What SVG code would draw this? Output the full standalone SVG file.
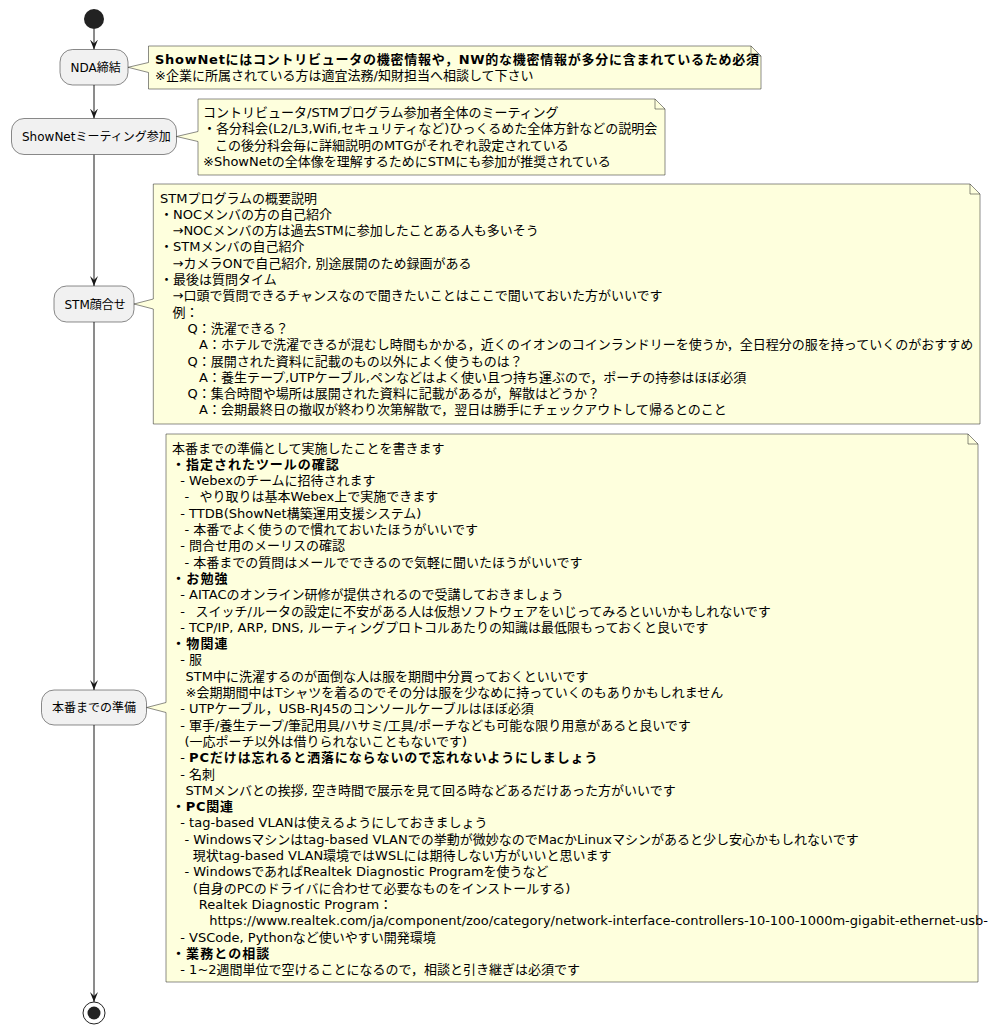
<svg xmlns="http://www.w3.org/2000/svg" width="992" height="1035" viewBox="0 0 992 1035">
<style>
.t{font-family:"DejaVu Sans","Noto Sans CJK JP",sans-serif;font-size:13px;fill:#000}
.n{font-size:12px}
.b{font-weight:bold}
.box{fill:#F1F1F1;stroke:#181818;stroke-width:0.5}
.note{fill:#FEFFDD;stroke:#181818;stroke-width:0.5}
.fold{fill:none;stroke:#181818;stroke-width:0.5}
.edge{fill:none;stroke:#181818;stroke-width:1}
</style>
<defs>
<marker id="ah" viewBox="0 0 10 8" refX="10" refY="4" markerWidth="10" markerHeight="8" orient="auto" markerUnits="userSpaceOnUse">
<path d="M0,0 L10,4 L0,8 L4,4 Z" fill="#181818"/>
</marker>
</defs>
<rect width="992" height="1035" fill="#FFFFFF"/>

<g id="connectors">
<line class="edge" x1="94" y1="29" x2="94" y2="49.5" marker-end="url(#ah)"/>
<line class="edge" x1="94" y1="85" x2="94" y2="118.5" marker-end="url(#ah)"/>
<line class="edge" x1="94" y1="154.5" x2="94" y2="286" marker-end="url(#ah)"/>
<line class="edge" x1="94" y1="322" x2="94" y2="690" marker-end="url(#ah)"/>
<line class="edge" x1="94" y1="725" x2="94" y2="1002" marker-end="url(#ah)"/>
</g>

<g id="start"><circle cx="94" cy="19" r="10" fill="#222222"/></g>

<g id="node-nda">
<rect class="box" x="60" y="49.5" width="68" height="35.5" rx="12.5"/>
<text class="t n" x="70.5" y="72">NDA締結</text>
</g>

<g id="node-shownet">
<rect class="box" x="11.5" y="118.5" width="165" height="36" rx="12.5"/>
<text class="t n" x="22" y="141">ShowNetミーティング参加</text>
</g>

<g id="node-stm">
<rect class="box" x="54" y="286" width="80" height="36" rx="12.5"/>
<text class="t n" x="64.5" y="308.5">STM顔合せ</text>
</g>

<g id="node-prep">
<rect class="box" x="41.5" y="690" width="105" height="35" rx="12.5"/>
<text class="t n" x="52" y="712">本番までの準備</text>
</g>

<g id="end">
<circle cx="94" cy="1013" r="11" fill="none" stroke="#222222" stroke-width="1"/>
<circle cx="94" cy="1013" r="6.5" fill="#222222"/>
</g>

<g id="note-nda">
<path class="note" d="M148.5,46 L148.5,62.5 L128,67.3 L148.5,72.5 L148.5,89 L761,89 L761,56 L751,46 Z"/>
<path class="fold" d="M751,46 L751,56 L761,56"/>
<text class="t b" x="155" y="64" textLength="604" lengthAdjust="spacing">ShowNetにはコントリビュータの機密情報や，NW的な機密情報が多分に含まれているため必須</text>
<text class="t" x="155" y="80.3">※企業に所属されている方は適宜法務/知財担当へ相談して下さい</text>
</g>

<g id="note-shownet">
<path class="note" d="M198,99 L198,131.5 L176.5,136.5 L198,141.5 L198,175 L665,175 L665,109 L655,99 Z"/>
<path class="fold" d="M655,99 L655,109 L665,109"/>
<text class="t" x="203" y="117">コントリビュータ/STMプログラム参加者全体のミーティング</text>
<text class="t" x="203" y="133.3">・各分科会(L2/L3,Wifi,セキュリティなど)ひっくるめた全体方針などの説明会</text>
<text class="t" x="215" y="149.6">この後分科会毎に詳細説明のMTGがそれぞれ設定されている</text>
<text class="t" x="203" y="165.9">※ShowNetの全体像を理解するためにSTMにも参加が推奨されている</text>
</g>

<g id="note-stm">
<path class="note" d="M153.3,184 L153.3,299 L134,304 L153.3,309 L153.3,424 L980,424 L980,194 L970,184 Z"/>
<path class="fold" d="M970,184 L970,194 L980,194"/>
<text class="t" x="160" y="202.5">STMプログラムの概要説明</text>
<text class="t" x="160" y="218.8">・NOCメンバの方の自己紹介</text>
<text class="t" x="172.5" y="235.1">→NOCメンバの方は過去STMに参加したことある人も多いそう</text>
<text class="t" x="160" y="251.4">・STMメンバの自己紹介</text>
<text class="t" x="172.5" y="267.7">→カメラONで自己紹介, 別途展開のため録画がある</text>
<text class="t" x="160" y="284">・最後は質問タイム</text>
<text class="t" x="172.5" y="300.3">→口頭で質問できるチャンスなので聞きたいことはここで聞いておいた方がいいです</text>
<text class="t" x="172.5" y="316.6">例：</text>
<text class="t" x="187.5" y="332.9">Q：洗濯できる？</text>
<text class="t" x="199" y="349.2">A：ホテルで洗濯できるが混むし時間もかかる，近くのイオンのコインランドリーを使うか，全日程分の服を持っていくのがおすすめ</text>
<text class="t" x="187.5" y="365.5">Q：展開された資料に記載のもの以外によく使うものは？</text>
<text class="t" x="199" y="381.8">A：養生テープ,UTPケーブル,ペンなどはよく使い且つ持ち運ぶので，ポーチの持参はほぼ必須</text>
<text class="t" x="187.5" y="398.1">Q：集合時間や場所は展開された資料に記載があるが，解散はどうか？</text>
<text class="t" x="199" y="414.4">A：会期最終日の撤収が終わり次第解散で，翌日は勝手にチェックアウトして帰るとのこと</text>
</g>

<g id="note-prep">
<path class="note" d="M166,434 L166,702.5 L146.7,707.5 L166,712.5 L166,982 L978,982 L978,444 L968,434 Z"/>
<path class="fold" d="M968,434 L968,444 L978,444"/>
<text class="t" x="172" y="452.5">本番までの準備として実施したことを書きます</text>
<text class="t b" x="172" y="468.8" textLength="166.8" lengthAdjust="spacing">・指定されたツールの確認</text>
<text class="t" x="180.3" y="485.1">- Webexのチームに招待されます</text>
<text class="t" y="501.4"><tspan x="184.4">-</tspan><tspan x="199.5">やり取りは基本Webex上で実施できます</tspan></text>
<text class="t" x="180.3" y="517.7">- TTDB(ShowNet構築運用支援システム)</text>
<text class="t" x="184.4" y="534">- 本番でよく使うので慣れておいたほうがいいです</text>
<text class="t" x="180.3" y="550.3">- 問合せ用のメーリスの確認</text>
<text class="t" x="184.4" y="566.6">- 本番までの質問はメールでできるので気軽に聞いたほうがいいです</text>
<text class="t b" x="172" y="582.9" textLength="55.6" lengthAdjust="spacing">・お勉強</text>
<text class="t" x="180.3" y="599.2">- AITACのオンライン研修が提供されるので受講しておきましょう</text>
<text class="t" y="615.5"><tspan x="180.3">-</tspan><tspan x="195.5">スイッチ/ルータの設定に不安がある人は仮想ソフトウェアをいじってみるといいかもしれないです</tspan></text>
<text class="t" x="180.3" y="631.8">- TCP/IP, ARP, DNS, ルーティングプロトコルあたりの知識は最低限もっておくと良いです</text>
<text class="t b" x="172" y="648.1" textLength="55.6" lengthAdjust="spacing">・物関連</text>
<text class="t" x="180.3" y="664.4">- 服</text>
<text class="t" x="185.5" y="680.7">STM中に洗濯するのが面倒な人は服を期間中分買っておくといいです</text>
<text class="t" x="185.5" y="697">※会期期間中はTシャツを着るのでその分は服を少なめに持っていくのもありかもしれません</text>
<text class="t" x="180.3" y="713.3">- UTPケーブル，USB-RJ45のコンソールケーブルはほぼ必須</text>
<text class="t" x="180.3" y="729.6">- 軍手/養生テープ/筆記用具/ハサミ/工具/ポーチなども可能な限り用意があると良いです</text>
<text class="t" x="184.4" y="745.9">(一応ポーチ以外は借りられないこともないです)</text>
<text class="t" y="762.2"><tspan x="180.3">-</tspan><tspan class="b" x="189.1" textLength="408.4" lengthAdjust="spacing">PCだけは忘れると洒落にならないので忘れないようにしましょう</tspan></text>
<text class="t" x="180.3" y="778.5">- 名刺</text>
<text class="t" x="185.5" y="794.8">STMメンバとの挨拶, 空き時間で展示を見て回る時などあるだけあった方がいいです</text>
<text class="t b" x="172" y="811.1" textLength="61" lengthAdjust="spacing">・PC関連</text>
<text class="t" x="180.3" y="827.4">- tag-based VLANは使えるようにしておきましょう</text>
<text class="t" x="184.4" y="843.7">- Windowsマシンはtag-based VLANでの挙動が微妙なのでMacかLinuxマシンがあると少し安心かもしれないです</text>
<text class="t" x="192.7" y="860">現状tag-based VLAN環境ではWSLには期待しない方がいいと思います</text>
<text class="t" x="184.4" y="876.3">- WindowsであればRealtek Diagnostic Programを使うなど</text>
<text class="t" x="192.7" y="892.6">(自身のPCのドライバに合わせて必要なものをインストールする)</text>
<text class="t" x="198.8" y="908.9">Realtek Diagnostic Program：</text>
<text class="t" x="209.2" y="925.2">https://www.realtek.com/ja/component/zoo/category/network-interface-controllers-10-100-1000m-gigabit-ethernet-usb-</text>
<text class="t" x="180.3" y="941.5">- VSCode, Pythonなど使いやすい開発環境</text>
<text class="t b" x="172" y="957.8" textLength="97.3" lengthAdjust="spacing">・業務との相談</text>
<text class="t" x="180.3" y="974.1">- 1~2週間単位で空けることになるので，相談と引き継ぎは必須です</text>
</g>
</svg>
